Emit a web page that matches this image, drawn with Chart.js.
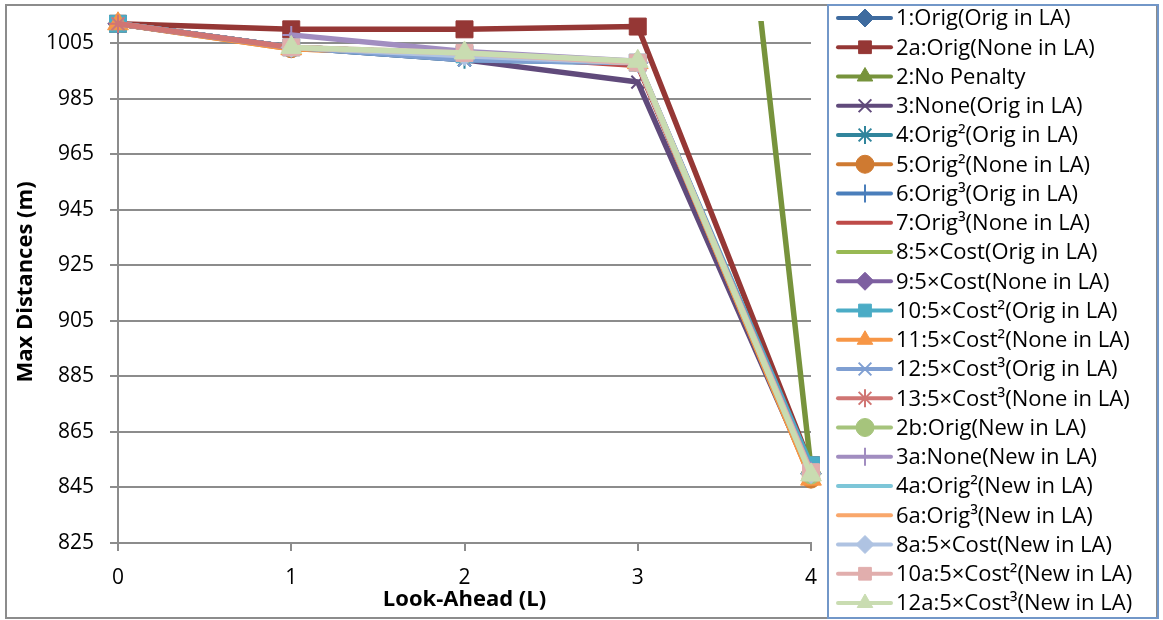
<!DOCTYPE html>
<html>
<head>
<meta charset="utf-8">
<title>Max Distances vs Look-Ahead</title>
<script src="https://cdn.jsdelivr.net/npm/chart.js@4.4.1/dist/chart.umd.min.js"></script>
<style>
  html, body { margin: 0; padding: 0; background: #ffffff; }
  #wrap { width: 1163px; height: 620px; position: relative; }
  canvas { display: block; }
</style>
</head>
<body>
<div id="wrap"><canvas id="chart" width="1163" height="620"></canvas></div>
<script>
// Look-ahead depth on the x axis
const lookAhead = [0, 1, 2, 3, 4];
// Labelled y-axis ticks (m)
const yTickValues = [825, 845, 865, 885, 905, 925, 945, 965, 985, 1005];

// Series names, in legend order
const seriesNames = [
  '1:Orig(Orig in LA)', '2a:Orig(None in LA)', '2:No Penalty', '3:None(Orig in LA)',
  '4:Orig\u00B2(Orig in LA)', '5:Orig\u00B2(None in LA)', '6:Orig\u00B3(Orig in LA)',
  '7:Orig\u00B3(None in LA)', '8:5\u00D7Cost(Orig in LA)', '9:5\u00D7Cost(None in LA)',
  '10:5\u00D7Cost\u00B2(Orig in LA)', '11:5\u00D7Cost\u00B2(None in LA)',
  '12:5\u00D7Cost\u00B3(Orig in LA)', '13:5\u00D7Cost\u00B3(None in LA)',
  '2b:Orig(New in LA)', '3a:None(New in LA)', '4a:Orig\u00B2(New in LA)',
  '6a:Orig\u00B3(New in LA)', '8a:5\u00D7Cost(New in LA)', '10a:5\u00D7Cost\u00B2(New in LA)',
  '12a:5\u00D7Cost\u00B3(New in LA)'
];

// Max distance (m) per look-ahead value, one array per series
const s1_origOrig     = [1012, 1003.5, 1001, 998, 850];
const s2a_origNone    = [1012, 1010, 1010, 1011, 853];
const s2_noPenalty    = [1410, 1410, 1410, 1410, 852];
const s3_noneOrig     = [1012, 1003.5, 999, 991, 849];
const s4_orig2Orig    = [1012, 1003.5, 999, 998, 851];
const s5_orig2None    = [1012, 1003, 1001, 998, 848];
const s6_orig3Orig    = [1012, 1003.5, 1001, 998, 850];
const s7_orig3None    = [1012, 1003.5, 1001, 997, 850];
const s8_cost5Orig    = [1012, 1003.5, 1001, 998, 850];
const s9_cost5None    = [1012, 1003.5, 1001, 998, 850];
const s10_cost5sqOrig = [1012, 1003.5, 1001, 998, 853];
const s11_cost5sqNone = [1012, 1003, 1001, 998, 848];
const s12_cost5cuOrig = [1012, 1003.5, 999, 998, 850];
const s13_cost5cuNone = [1012, 1003.5, 1001, 998, 850];
const s2b_origNew     = [null, 1003.5, 1001, 998, 849.5];
const s3a_noneNew     = [null, 1008, 1002, 998.5, 851];
const s4a_orig2New    = [null, 1003.5, 1001, 998, 850];
const s6a_orig3New    = [null, 1003.5, 1001, 998, 850];
const s8a_cost5New    = [null, 1003.5, 1000.5, 998, 850];
const s10a_cost5sqNew = [null, 1003.5, 1001.5, 998, 850.5];
const s12a_cost5cuNew = [null, 1003.5, 1001.5, 998.5, 849.5];

const seriesValues = [
  s1_origOrig, s2a_origNone, s2_noPenalty, s3_noneOrig, s4_orig2Orig, s5_orig2None,
  s6_orig3Orig, s7_orig3None, s8_cost5Orig, s9_cost5None, s10_cost5sqOrig,
  s11_cost5sqNone, s12_cost5cuOrig, s13_cost5cuNone, s2b_origNew, s3a_noneNew,
  s4a_orig2New, s6a_orig3New, s8a_cost5New, s10a_cost5sqNew, s12a_cost5cuNew
];

// Line colour and marker shape per series
const seriesStyles = [
  { color: '#3E6B9F', marker: 'rectRot' },
  { color: '#953735', marker: 'rect' },
  { color: '#77933C', marker: 'triangle' },
  { color: '#604A7B', marker: 'crossRot' },
  { color: '#31859C', marker: 'star' },
  { color: '#CF7A31', marker: 'circle' },
  { color: '#4A7EBB', marker: 'cross' },
  { color: '#BE4B48', marker: null },
  { color: '#98B954', marker: null },
  { color: '#7D5FA0', marker: 'rectRot' },
  { color: '#4BACC6', marker: 'rect' },
  { color: '#F79646', marker: 'triangle' },
  { color: '#7F9FD2', marker: 'crossRot' },
  { color: '#D07573', marker: 'star' },
  { color: '#A6C47C', marker: 'circle' },
  { color: '#A18DC0', marker: 'cross' },
  { color: '#7DC6D8', marker: null },
  { color: '#F9A76B', marker: null },
  { color: '#AFC3E2', marker: 'rectRot' },
  { color: '#E1AEAD', marker: 'rect' },
  { color: '#C9DCB1', marker: 'triangle' }
];

const markerRadius = { rect: 12, rectRot: 10, triangle: 12, circle: 9, cross: 9, crossRot: 9, star: 9 };
const strokedMarkers = ['cross', 'crossRot', 'star'];
const legendRadius = { rect: 9, rectRot: 9, triangle: 9, circle: 9, cross: 9, crossRot: 9, star: 9 };

const FONT = '"Open Sans", Lato, sans-serif';
const N = seriesNames.length;

const datasets = seriesNames.map((name, i) => {
  const st = seriesStyles[i];
  const stroked = st.marker && strokedMarkers.includes(st.marker);
  const ds = {
    label: name,
    data: seriesValues[i].map((v, k) => ({ x: lookAhead[k], y: v })),
    borderColor: st.color,
    backgroundColor: st.color,
    borderWidth: 5.5,
    tension: 0,
    borderJoinStyle: 'round',
    borderCapStyle: 'round',
    pointStyle: st.marker || false,
    pointRadius: st.marker ? markerRadius[st.marker] : 0,
    pointBackgroundColor: st.color,
    pointBorderColor: st.color,
    pointBorderWidth: stroked ? 2 : 1,
    pointHoverRadius: st.marker ? markerRadius[st.marker] : 0,
    order: N - 1 - i,
    clip: false
  };
  if (name === '2:No Penalty') {
    // the steep drop is cut at the top of the plot area
    ds.clip = { left: false, top: 0, right: false, bottom: false };
  }
  return ds;
});

// Framed legend on the right and the outer chart border
const boxLegend = {
  id: 'boxLegend',
  afterDraw(chart) {
    const ctx = chart.ctx;
    ctx.save();
    ctx.lineWidth = 2;
    ctx.strokeStyle = '#8c8c8c';
    ctx.strokeRect(6, 5, 1151, 613);
    ctx.strokeStyle = '#7297C8';
    ctx.strokeRect(828, 5, 330, 613);

    chart.data.datasets.forEach((ds, i) => {
      const y = 18 + i * 29.25;
      ctx.strokeStyle = ds.borderColor;
      ctx.fillStyle = ds.borderColor;
      ctx.lineWidth = 4;
      ctx.lineCap = 'round';
      ctx.beginPath();
      ctx.moveTo(838, y);
      ctx.lineTo(891, y);
      ctx.stroke();
      if (ds.pointStyle) {
        ctx.lineWidth = ds.pointBorderWidth;
        ctx.lineCap = 'butt';
        Chart.helpers.drawPoint(ctx, {
          pointStyle: ds.pointStyle,
          radius: legendRadius[ds.pointStyle],
          borderWidth: ds.pointBorderWidth,
          rotation: 0
        }, 865, y);
      }
      ctx.fillStyle = '#000000';
      ctx.font = '22px ' + FONT;
      ctx.textBaseline = 'middle';
      ctx.textAlign = 'left';
      ctx.fillText(ds.label, 896, y + 1);
    });
    ctx.restore();
  }
};

const gridGray = '#8c8c8c';

new Chart(document.getElementById('chart'), {
  type: 'line',
  data: { datasets },
  plugins: [boxLegend],
  options: {
    responsive: false,
    animation: false,
    devicePixelRatio: 1,
    events: [],
    layout: { padding: { left: 10, right: 352, top: 21, bottom: 7 } },
    plugins: {
      legend: { display: false },
      tooltip: { enabled: false }
    },
    scales: {
      x: {
        type: 'linear',
        min: 0,
        max: 4,
        ticks: { stepSize: 1, color: '#000', padding: 14, font: { family: FONT, size: 21 } },
        grid: { drawOnChartArea: false, drawTicks: true, tickLength: 8, color: gridGray, lineWidth: 2 },
        border: { display: true, color: gridGray, width: 2 },
        title: {
          display: true, text: 'Look-Ahead (L)', color: '#000',
          font: { family: FONT, size: 22, weight: 'bold' }, padding: { top: 0, bottom: 0 }
        },
        afterFit(scale) { scale.height = 70; }
      },
      y: {
        type: 'linear',
        min: 825,
        max: 1013,
        afterBuildTicks(scale) { scale.ticks = yTickValues.map(v => ({ value: v })); },
        ticks: {
          color: '#000', padding: 16, font: { family: FONT, size: 21 },
          callback: (v) => String(v)
        },
        grid: { color: gridGray, lineWidth: 2, tickLength: 8 },
        border: { display: true, color: gridGray, width: 2 },
        title: {
          display: true, text: 'Max Distances (m)', color: '#000',
          font: { family: FONT, size: 22, weight: 'bold' }, padding: { top: 3, bottom: 0 }
        },
        afterFit(scale) {
          scale.width = 108;
          scale.paddingTop = 0;
          scale.paddingBottom = 0;
        }
      }
    }
  }
});
</script>
</body>
</html>
